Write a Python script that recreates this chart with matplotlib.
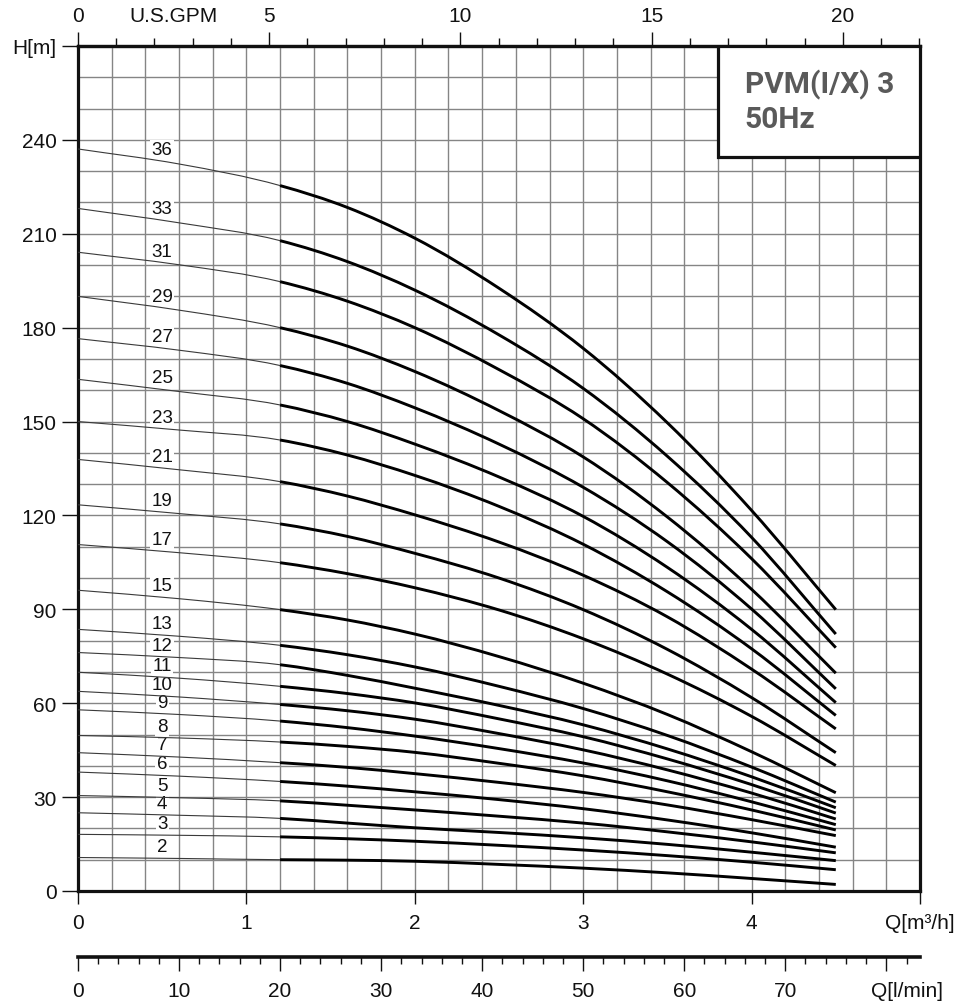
import numpy as np
import matplotlib
matplotlib.use('Agg')
import matplotlib.pyplot as plt
from matplotlib.patches import Rectangle, PathPatch
from matplotlib.path import Path

plt.rcParams['font.family'] = ['Liberation Sans', 'DejaVu Sans']

# ---------------- data ----------------
flow_m3h = [0.0, 0.6, 1.2, 1.6, 2.0, 2.5, 3.0, 3.5, 4.0, 4.5]

head_s36 = [237.1, 232.3, 225.4, 218.4, 208.6, 192.6, 173.4, 149.6, 121.6, 89.9]
head_s33 = [218.1, 213.5, 207.8, 201.1, 192.0, 177.7, 160.6, 138.9, 113.0, 82.1]
head_s31 = [204.1, 200.1, 194.7, 188.45, 180.0, 166.6, 150.9, 130.5, 106.2, 77.75]
head_s29 = [190.0, 185.6, 180.0, 174.1, 166.0, 153.5, 138.7, 119.5, 96.4, 69.6]
head_s27 = [176.5, 172.8, 167.9, 162.2, 154.4, 142.8, 129.0, 111.6, 90.1, 64.6]
head_s25 = [163.5, 159.6, 155.3, 150.0, 142.8, 132.3, 119.7, 103.4, 83.6, 60.2]
head_s23 = [150.0, 147.3, 144.1, 139.3, 132.8, 122.9, 110.8, 95.6, 77.4, 56.1]
head_s21 = [137.9, 134.6, 130.8, 126.2, 120.2, 111.5, 100.9, 87.6, 70.9, 51.8]
head_s19 = [123.4, 120.6, 117.3, 113.3, 107.9, 100.0, 89.9, 77.2, 61.8, 44.2]
head_s17 = [110.7, 108.1, 104.9, 101.4, 96.9, 89.8, 80.6, 69.3, 55.8, 40.1]
head_s15 = [96.1, 93.4, 89.9, 86.6, 82.1, 74.9, 66.4, 56.4, 44.5, 31.4]
head_s13 = [83.6, 81.4, 78.5, 75.5, 71.6, 65.4, 58.3, 49.7, 39.6, 28.4]
head_s12 = [76.2, 74.6, 72.3, 68.9, 64.8, 59.3, 53.1, 45.4, 36.5, 26.6]
head_s11 = [69.9, 68.0, 65.4, 63.1, 60.1, 55.0, 49.3, 42.2, 34.0, 24.9]
head_s10 = [63.8, 62.0, 59.6, 57.6, 54.9, 50.3, 45.1, 38.7, 31.3, 23.0]
head_s9 = [57.9, 56.4, 54.3, 52.2, 49.5, 45.5, 40.9, 35.2, 28.5, 21.2]
head_s8 = [49.7, 48.9, 47.6, 46.2, 44.3, 40.8, 36.8, 31.7, 25.9, 19.5]
head_s7 = [44.2, 42.8, 41.0, 39.5, 37.5, 34.7, 31.5, 27.5, 22.8, 17.7]
head_s6 = [38.0, 36.7, 35.0, 33.5, 31.7, 29.2, 26.3, 22.7, 18.6, 14.0]
head_s5 = [30.5, 29.8, 28.8, 27.4, 25.9, 23.9, 21.7, 18.9, 15.7, 12.2]
head_s4 = [25.0, 24.2, 23.2, 21.7, 20.2, 18.7, 17.0, 14.9, 12.4, 9.7]
head_s3 = [18.1, 17.8, 17.3, 16.7, 15.9, 14.6, 13.1, 11.3, 9.2, 6.8]
head_s2 = [10.7, 10.4, 10.0, 9.85, 9.5, 8.5, 7.3, 5.8, 4.0, 2.1]

stage_labels = ['36', '33', '31', '29', '27', '25', '23', '21', '19', '17', '15',
                '13', '12', '11', '10', '9', '8', '7', '6', '5', '4', '3', '2']

q_ticks = [0, 1, 2, 3, 4, 5]
q_ticklabels = ['0', '1', '2', '3', '4', 'Q[m³/h]']
h_ticks = [0, 30, 60, 90, 120, 150, 180, 210, 240, 270]
h_ticklabels = ['0', '30', '60', '90', '120', '150', '180', '210', '240', 'H[m]']
gpm_ticks = [0, 5, 10, 15, 20]
lpm_ticks = [0, 10, 20, 30, 40, 50, 60, 70, 80]
lpm_ticklabels = ['0', '10', '20', '30', '40', '50', '60', '70', '']
title_lines = ['PVM(I/X) 3', '50Hz']

curves = [head_s36, head_s33, head_s31, head_s29, head_s27, head_s25, head_s23,
          head_s21, head_s19, head_s17, head_s15, head_s13, head_s12, head_s11,
          head_s10, head_s9, head_s8, head_s7, head_s6, head_s5, head_s4,
          head_s3, head_s2]

GPM_PER_M3H = 4.40287
LPM_PER_M3H = 1000.0 / 60.0
THICK_FROM = 1.2


def tangents(x, y):
    """Slopes at the read points (three-point, non-uniform spacing)."""
    h = np.diff(x)
    d = np.diff(y) / h
    m = np.empty_like(y)
    m[0] = d[0]
    m[-1] = d[-1]
    for i in range(1, len(x) - 1):
        m[i] = (d[i - 1] * h[i] + d[i] * h[i - 1]) / (h[i - 1] + h[i])
    return m


def smooth_path(x, y, m):
    """Cubic Bezier path through every read point (smooth line rendering)."""
    verts = [(x[0], y[0])]
    codes = [Path.MOVETO]
    for i in range(len(x) - 1):
        dx = x[i + 1] - x[i]
        verts += [(x[i] + dx / 3, y[i] + m[i] * dx / 3),
                  (x[i + 1] - dx / 3, y[i + 1] - m[i + 1] * dx / 3),
                  (x[i + 1], y[i + 1])]
        codes += [Path.CURVE4] * 3
    return Path(verts, codes)


# ---------------- figure ----------------
W, H = 956, 1003
fig = plt.figure(figsize=(W / 100, H / 100), dpi=100)
fig.patch.set_facecolor('white')
ax = fig.add_axes([78 / W, (H - 892) / H, 842 / W, 845 / H])
ax.set_xlim(0, 5)
ax.set_ylim(0, 270)

ax.set_xticks(q_ticks)
ax.set_xticklabels(q_ticklabels)
ax.set_xticks(np.arange(0, 5.001, 0.2), minor=True)
ax.set_yticks(h_ticks)
ax.set_yticklabels(h_ticklabels)
ax.set_yticks(np.arange(0, 271, 10), minor=True)
ax.grid(which='both', color='#858585', lw=1.0)
ax.set_axisbelow(True)
ax.tick_params(which='minor', length=0)
ax.tick_params(axis='y', which='major', length=11.5, width=1.0, pad=4, labelsize=15,
               colors='#111111')
ax.tick_params(axis='x', which='major', length=9.5, width=1.0, pad=6, labelsize=15,
               colors='#111111')
for s in ax.spines.values():
    s.set_linewidth(2.3)
    s.set_color('#111111')

# curves
for lab, head in zip(stage_labels, curves):
    q = np.array(flow_m3h, dtype=float)
    h = np.array(head, dtype=float)
    m = tangents(q, h)
    thin = q <= THICK_FROM + 1e-9
    thick = q >= THICK_FROM - 1e-9
    ax.add_patch(PathPatch(smooth_path(q[thin], h[thin], m[thin]), fill=False,
                           edgecolor='#3a3a3a', lw=0.8, zorder=3, capstyle='butt'))
    ax.add_patch(PathPatch(smooth_path(q[thick], h[thick], m[thick]), fill=False,
                           edgecolor='black', lw=2.1, zorder=3, capstyle='butt',
                           joinstyle='round'))
    yl = np.interp(0.5, q, h)
    ax.annotate(lab, xy=(0.5, yl), xytext=(0, 8.3), textcoords='offset points',
                ha='center', va='center', fontsize=13.5, color='#111111', zorder=2.5,
                bbox=dict(boxstyle='square,pad=0.08', fc='white', ec='none'))

# title box
ax.add_patch(Rectangle((3.8, 234.6), 1.2, 35.4, facecolor='white', edgecolor='#111111',
                       lw=2.3, zorder=4))
ax.text(3.96, 257.9, title_lines[0], family=['Roboto', 'DejaVu Sans'], weight='bold',
        fontsize=21.5, color='#5a5a5a', ha='left', va='center', zorder=5)
ax.text(3.96, 246.8, title_lines[1], family=['Roboto', 'DejaVu Sans'], weight='bold',
        fontsize=21.5, color='#5a5a5a', ha='left', va='center', zorder=5)

# top US GPM axis
top = ax.secondary_xaxis('top', functions=(lambda q: q * GPM_PER_M3H,
                                           lambda g: g / GPM_PER_M3H))
top.set_xticks(gpm_ticks)
top.set_xticks(np.arange(0, 22.5, 1), minor=True)
top.tick_params(which='major', length=10, width=1.0, pad=5, labelsize=15, colors='#111111')
top.tick_params(which='minor', length=6, width=1.0, colors='#111111')
top.spines['top'].set_linewidth(2.3)
ax.annotate('U.S.GPM', xy=(2.5 / GPM_PER_M3H, 1.0), xycoords=('data', 'axes fraction'),
            xytext=(0, 15), textcoords='offset points', ha='center', va='bottom',
            fontsize=15, color='#111111')

# bottom l/min axis
loc = (892 - 958) / 845.0
bot = ax.secondary_xaxis(loc, functions=(lambda q: q * LPM_PER_M3H,
                                         lambda l: l / LPM_PER_M3H))
bot.set_xticks(lpm_ticks)
bot.set_xticklabels(lpm_ticklabels)
bot.set_xticks(np.arange(0, 83, 2), minor=True)
bot.tick_params(which='major', length=10, width=1.0, pad=7, labelsize=15, colors='#111111')
bot.tick_params(which='minor', length=5, width=1.0, colors='#111111')
bot.spines['bottom'].set_linewidth(2.6)
bot.spines['bottom'].set_color('#111111')
ax.annotate('Q[l/min]', xy=(82.0 / LPM_PER_M3H, loc), xycoords=('data', 'axes fraction'),
            xytext=(0, -17), textcoords='offset points', ha='center', va='top',
            fontsize=15, color='#111111', annotation_clip=False)

fig.savefig('out.png', dpi=100, facecolor='white')
